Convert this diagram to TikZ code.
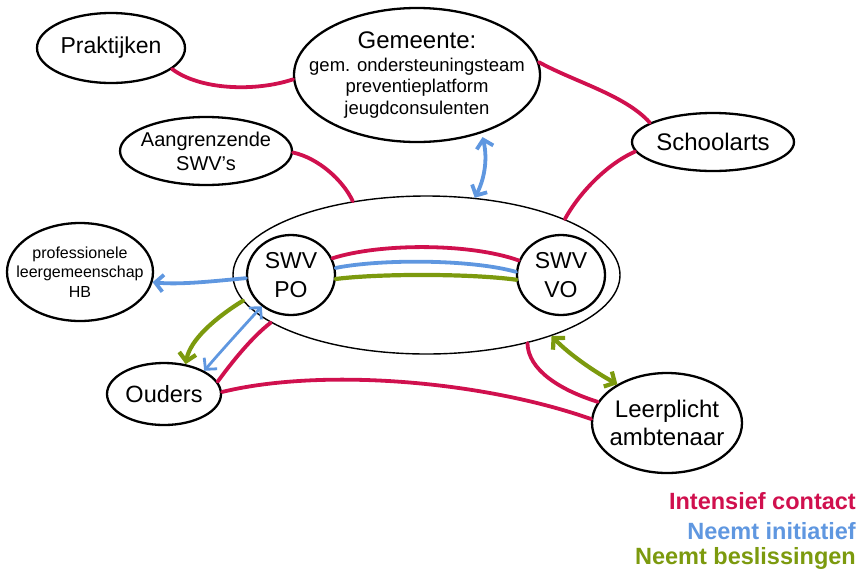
\documentclass[tikz,border=0pt]{standalone}
\usepackage{fontspec}
\setmainfont{Liberation Sans}
\usetikzlibrary{shapes.geometric,arrows.meta}
\definecolor{cred}{HTML}{D0104E}
\definecolor{cblue}{HTML}{5F97E0}
\definecolor{cgreen}{HTML}{7C9A0E}
\begin{document}
\begin{tikzpicture}[x=1pt,y=-1pt,
  blob/.style={ellipse, draw, line width=2.3pt, inner sep=0pt},
  lbl/.style={align=center, inner sep=0pt},
  fs/.style n args={2}{font=\fontsize{#1}{#2}\selectfont},
  link/.style={line width=3.8pt, line cap=round},
  rl/.style={link, draw=cred},
  bl/.style={link, draw=cblue},
  gl/.style={link, draw=cgreen, line width=4.2pt},
  legend/.style={anchor=east, inner sep=0pt, font=\fontsize{23.5}{27}\selectfont\bfseries},
  >={Straight Barb[length=8pt,width=17pt]}]
\useasboundingbox (0,0) rectangle (858,571);

\node[ellipse, draw, line width=1.4pt, minimum width=387, minimum height=158] (big) at (426.5,275) {};
\node[blob, minimum width=148, minimum height=70, label={[lbl,fs={23}{27}]center:Praktijken}] (prak) at (111,48) {};
\node[blob, minimum width=246, minimum height=134,
  label={[lbl,fs={18.5}{21.5}]center:{{\fontsize{24}{24}\selectfont Gemeente:}\\[1pt]gem. ondersteuningsteam\\preventieplatform\\jeugdconsulenten}}] (gem) at (417,75) {};
\node[blob, minimum width=172, minimum height=68, label={[lbl,fs={20}{24}]center:Aangrenzende\\SWV’s}] (aang) at (206,151) {};
\node[blob, minimum width=162, minimum height=58, label={[lbl,fs={24}{28}]center:Schoolarts}] (school) at (713,142) {};
\node[blob, minimum width=88, minimum height=80, label={[lbl,fs={23}{29}]center:SWV\\PO}] (po) at (291,275) {};
\node[blob, minimum width=88, minimum height=80, label={[lbl,fs={23}{29}]center:SWV\\VO}] (vo) at (561,275) {};
\node[blob, minimum width=146, minimum height=98, label={[lbl,fs={16}{19.5}]center:professionele\\leergemeenschap\\HB}] (prof) at (80,272) {};
\node[blob, minimum width=114, minimum height=62, label={[lbl,fs={23.5}{28}]center:Ouders}] (ouders) at (164,394) {};
\node[blob, minimum width=150, minimum height=100, label={[lbl,fs={24}{28}]center:Leerplicht\\ambtenaar}] (leer) at (667,423) {};

\draw[rl] (prak.-19.5) .. controls (200,90) and (255,92) .. (gem.182);
\draw[rl] (gem.6) .. controls (575,82) and (625,95) .. (school.163);
\draw[rl] (aang.-1) .. controls (318,158) and (343,180) .. (big.135);
\draw[rl] (school.187) .. controls (605,165) and (578,195) .. (big.22);
\draw[bl,<->,shorten <=4pt] (gem.-42) .. controls (488,160) and (484,180) .. (big.58);

\draw[rl] (po.22) .. controls (380,243) and (470,243) .. (vo.161);
\draw[bl] (po.9) .. controls (380,259) and (470,259) .. (vo.176);
\draw[gl] (po.-5) .. controls (380,273.5) and (470,273.5) .. (vo.186);

\draw[bl,->] (po.184) .. controls (215,281) and (180,285) .. (prof.-8.5);
\draw[gl,->] (big.188.4) .. controls (215,318) and (190,340) .. (ouders.54);
\draw[bl,line width=2.8pt,<->] (ouders.30) .. controls (222,350) and (243,327) .. (po.227.5);
\draw[rl] (ouders.13) .. controls (232,362) and (252,337) .. (big.197);
\draw[rl] (ouders.2) .. controls (320,368) and (480,380) .. (leer.177);
\draw[rl] (big.-34) .. controls (528,370) and (560,390) .. (leer.163);
\draw[gl,<->] (big.-26.5) .. controls (570,355) and (595,372) .. (leer.142);

\node[legend, text=cred] (lg1) at (856,501) {Intensief contact};
\node[legend, text=cblue] (lg2) at (856,531) {Neemt initiatief};
\node[legend, text=cgreen] (lg3) at (856,558) {Neemt beslissingen};
\end{tikzpicture}
\end{document}
